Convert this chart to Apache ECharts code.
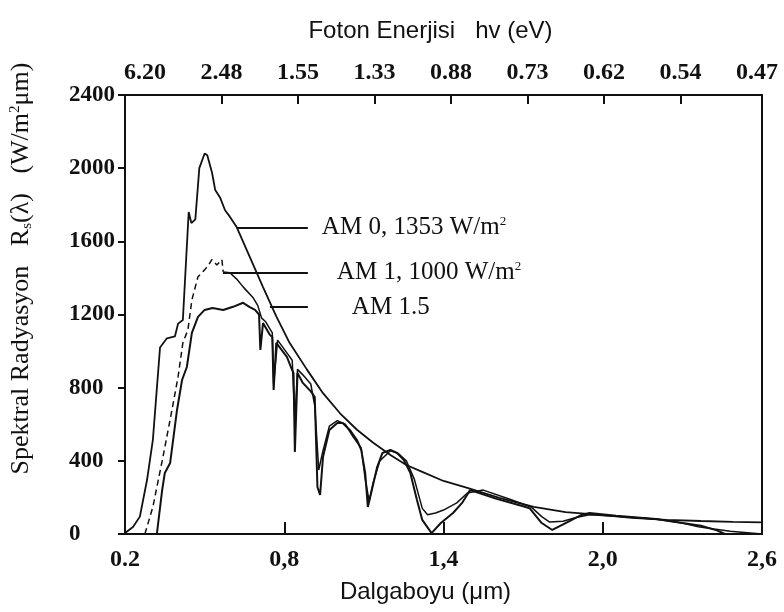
<!DOCTYPE html>
<html>
<head>
<meta charset="utf-8">
<script src="https://cdn.jsdelivr.net/npm/echarts@6/dist/echarts.min.js"></script>
<style>
  html, body { margin: 0; padding: 0; background: #fff; }
  #main { width: 784px; height: 612px; }
</style>
</head>
<body>
<div id="main"></div>
<script>
// AM 0 (disarida), AM 1 (kesikli), AM 1.5 spektrumlari
const am0Wl = [0.2, 0.23, 0.256, 0.283, 0.305, 0.332, 0.358, 0.388, 0.40, 0.418, 0.44, 0.45, 0.465, 0.48, 0.50, 0.51, 0.528, 0.54, 0.558, 0.577, 0.595, 0.62, 0.67, 0.72, 0.77, 0.82, 0.885, 0.946, 1.01, 1.074, 1.134, 1.2, 1.26, 1.32, 1.4, 1.49, 1.61, 1.74, 1.86, 1.99, 2.11, 2.24, 2.37, 2.49, 2.6]
const am0Val = [5, 38, 95, 295, 514, 1020, 1070, 1080, 1150, 1170, 1760, 1700, 1720, 2000, 2080, 2070, 1975, 1880, 1840, 1770, 1735, 1680, 1515, 1350, 1190, 1045, 900, 770, 660, 570, 500, 432, 377, 340, 290, 252, 197, 148, 120, 104, 88, 77, 71, 66, 64]

const am1Wl = [0.275, 0.305, 0.343, 0.377, 0.40, 0.418, 0.437, 0.452, 0.475, 0.50, 0.515, 0.527, 0.546, 0.565, 0.57, 0.595, 0.62, 0.645, 0.683, 0.70, 0.715, 0.73, 0.755, 0.76, 0.775, 0.81, 0.83, 0.84, 0.85, 0.87, 0.9, 0.915, 0.93, 0.945, 0.97, 1.0, 1.03, 1.06, 1.09, 1.105, 1.12, 1.135, 1.16, 1.2, 1.23, 1.26, 1.29, 1.32, 1.34, 1.37, 1.4, 1.45, 1.49, 1.55, 1.65, 1.73, 1.77, 1.8, 1.85, 1.9, 1.95, 2.05, 2.2, 2.3, 2.36, 2.42, 2.48, 2.6]
const am1Val = [0, 148, 421, 678, 860, 1045, 1116, 1280, 1406, 1444, 1470, 1500, 1471, 1500, 1433, 1428, 1395, 1351, 1291, 1250, 1180, 1160, 1100, 820, 1060, 990, 950, 620, 900, 870, 820, 700, 350, 450, 590, 620, 600, 530, 470, 300, 180, 280, 400, 455, 440, 400, 300, 140, 105, 115, 131, 170, 224, 240, 190, 148, 95, 65, 70, 90, 105, 97, 82, 60, 40, 27, 15, 0]
const am1DashEnd = 14  // kesikli kisim 0.57 um'ye kadar

const am15Wl = [0.32, 0.34, 0.35, 0.37, 0.396, 0.415, 0.433, 0.452, 0.475, 0.5, 0.53, 0.57, 0.607, 0.645, 0.67, 0.69, 0.705, 0.71, 0.72, 0.745, 0.755, 0.76, 0.77, 0.81, 0.825, 0.835, 0.84, 0.85, 0.87, 0.9, 0.915, 0.925, 0.935, 0.946, 0.97, 1.0, 1.02, 1.047, 1.074, 1.09, 1.105, 1.115, 1.13, 1.15, 1.17, 1.2, 1.225, 1.25, 1.275, 1.3, 1.32, 1.355, 1.39, 1.436, 1.47, 1.5, 1.6, 1.7, 1.725, 1.77, 1.81, 1.86, 1.92, 1.95, 2.05, 2.2, 2.3, 2.37, 2.43, 2.46, 2.6]
const am15Val = [0, 240, 334, 388, 678, 842, 913, 1100, 1187, 1225, 1236, 1225, 1242, 1264, 1240, 1225, 1200, 1006, 1153, 1090, 1077, 788, 1045, 968, 913, 880, 448, 880, 826, 780, 749, 257, 213, 421, 569, 607, 607, 569, 514, 460, 334, 148, 240, 366, 443, 460, 443, 405, 334, 186, 77, 5, 60, 115, 170, 240, 192, 152, 140, 60, 22, 60, 104, 115, 100, 82, 60, 45, 20, 0, 0]

// eksen etiketleri
const xTickValues = [0.2, 0.8, 1.4, 2.0, 2.6]
const xTickLabels = ['0.2', '0,8', '1,4', '2,0', '2,6']
const energyLabels = ['6.20', '2.48', '1.55', '1.33', '0.88', '0.73', '0.62', '0.54', '0.47']
const yTicks = [0, 400, 800, 1200, 1600, 2000, 2400]

// etiket cizgileri: [baslangic dalgaboyu, seviye, metin]
const labelStart = [0.622, 0.569, 0.746]
const labelLevel = [1674, 1428, 1241]
const labelText = ['AM 0, 1353 W/m{sup|2}', 'AM 1, 1000 W/m{sup|2}', 'AM 1.5']
const labelEnd = 0.889

function pairs (xs, ys) {
  return xs.map(function (x, i) { return [x, ys[i]] })
}

const ink = '#111'
const serif = '"Liberation Serif", "DejaVu Serif", serif'
const sans = '"Liberation Sans Narrow", "Liberation Sans", sans-serif'

function leader (i) {
  return {
    silent: true,
    symbol: 'none',
    animation: false,
    lineStyle: { color: ink, width: 1.8, type: 'solid' },
    label: {
      show: true,
      position: 'end',
      distance: 14 + 15 * i,
      formatter: labelText[i],
      color: ink,
      fontFamily: serif,
      fontSize: 25,
      rich: { sup: { fontSize: 13, verticalAlign: 'top', padding: [0, 0, 12, 0], fontFamily: serif, color: ink } }
    },
    data: [[{ coord: [labelStart[i], labelLevel[i]] }, { coord: [labelEnd, labelLevel[i]] }]]
  }
}

var am1Pairs = pairs(am1Wl, am1Val)

var myChart = echarts.init(document.getElementById('main'))
myChart.setOption({
  backgroundColor: '#fff',
  animation: false,
  grid: {
    left: 125, right: 22, top: 95, bottom: 78,
    show: true, borderColor: ink, borderWidth: 2
  },
  xAxis: [{
    type: 'value',
    position: 'bottom',
    min: 0.2,
    max: 2.6,
    name: 'Dalgaboyu (μm)',
    nameLocation: 'middle',
    nameGap: 46,
    nameTextStyle: { color: ink, fontFamily: sans, fontSize: 24, padding: [0, 36, 0, 0] },
    axisLine: { onZero: false, lineStyle: { color: ink, width: 2 } },
    axisTick: { inside: true, length: 12, customValues: xTickValues, lineStyle: { color: ink, width: 2 } },
    axisLabel: {
      customValues: xTickValues,
      margin: 14,
      color: ink,
      fontFamily: serif,
      fontSize: 24,
      fontWeight: 'bold',
      formatter: function (v) {
        var i = xTickValues.findIndex(function (t) { return Math.abs(t - v) < 1e-6 })
        return i < 0 ? '' : xTickLabels[i]
      }
    },
    splitLine: { show: false }
  }, {
    type: 'value',
    position: 'top',
    min: -0.26,
    max: 8.065,
    name: 'Foton Enerjisi   hv (eV)',
    nameLocation: 'middle',
    nameGap: 52,
    nameTextStyle: { color: ink, fontFamily: sans, fontSize: 24, padding: [0, 26, 0, 0] },
    axisLine: { onZero: false, lineStyle: { color: ink, width: 2 } },
    axisTick: { inside: true, length: 9, customValues: [1, 2, 3, 4, 5, 6, 7], lineStyle: { color: ink, width: 2 } },
    axisLabel: {
      customValues: energyLabels.map(function (l, i) { return i }),
      margin: 10,
      color: ink,
      fontFamily: serif,
      fontSize: 24,
      fontWeight: 'bold',
      formatter: function (v) { return energyLabels[Math.round(v)] || '' }
    },
    splitLine: { show: false }
  }],
  yAxis: {
    type: 'value',
    min: 0,
    max: 2400,
    name: 'Spektral Radyasyon   R{sub|s}(λ)   (W/m{sup|2}μm)',
    nameLocation: 'middle',
    nameRotate: 90,
    nameGap: 90,
    nameTextStyle: {
      color: ink, fontFamily: serif, fontSize: 26,
      padding: [0, 0, 0, 92],
      rich: {
        sub: { fontSize: 15, verticalAlign: 'bottom', padding: [9, 0, 0, 0], fontFamily: serif, color: ink },
        sup: { fontSize: 15, verticalAlign: 'top', padding: [0, 0, 12, 0], fontFamily: serif, color: ink }
      }
    },
    axisLine: { show: true, onZero: false, lineStyle: { color: ink, width: 2 } },
    axisTick: { show: true, inside: false, length: 7, customValues: yTicks, lineStyle: { color: ink, width: 2 } },
    axisLabel: {
      customValues: yTicks,
      align: 'left',
      margin: 56,
      color: ink,
      fontFamily: serif,
      fontSize: 23,
      fontWeight: 'bold',
      formatter: function (v) { return String(v) }
    },
    splitLine: { show: false }
  },
  series: [{
    name: 'AM 0',
    type: 'line',
    showSymbol: false,
    data: pairs(am0Wl, am0Val),
    lineStyle: { color: ink, width: 1.8 },
    markLine: leader(0)
  }, {
    name: 'AM 1',
    type: 'line',
    showSymbol: false,
    data: am1Pairs.slice(0, am1DashEnd + 1),
    lineStyle: { color: ink, width: 1.5, type: [6, 4] },
    markLine: leader(1)
  }, {
    name: 'AM 1 ',
    type: 'line',
    showSymbol: false,
    data: am1Pairs.slice(am1DashEnd),
    lineStyle: { color: ink, width: 1.5 }
  }, {
    name: 'AM 1.5',
    type: 'line',
    showSymbol: false,
    data: pairs(am15Wl, am15Val),
    lineStyle: { color: ink, width: 2 },
    markLine: leader(2)
  }]
})
</script>
</body>
</html>
